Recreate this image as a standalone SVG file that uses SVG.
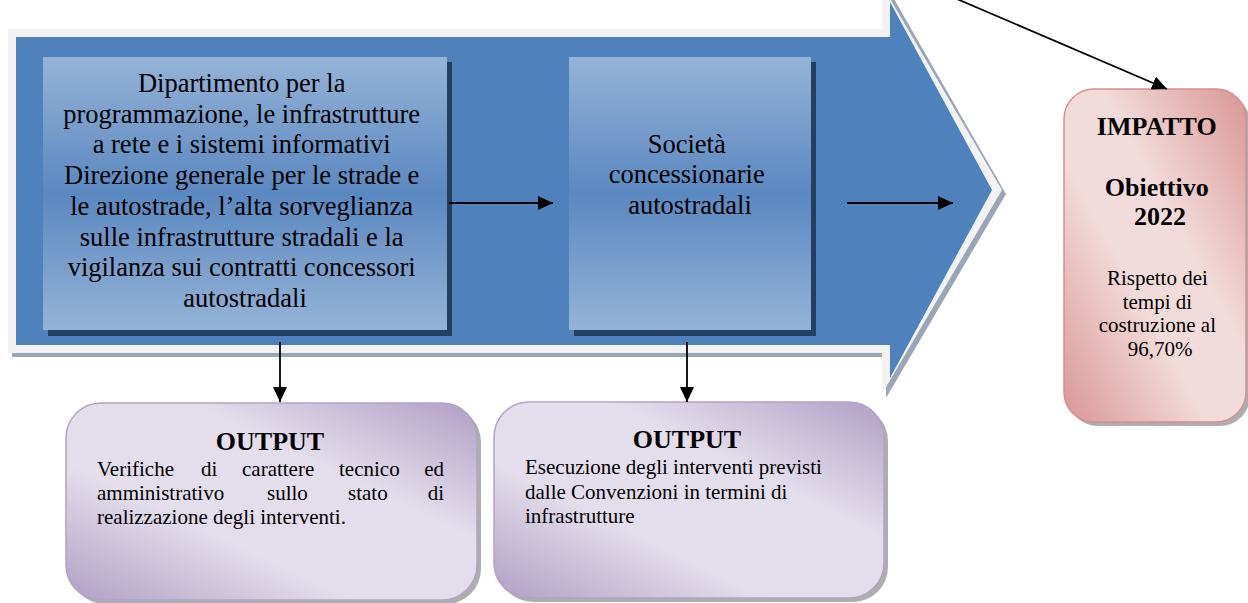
<svg xmlns="http://www.w3.org/2000/svg" width="1248" height="603" viewBox="0 0 1248 603">
<style>
  .t { font-family: "Liberation Serif", "Times New Roman", serif; fill: #000; }
  .big { font-size: 26.5px; }
  .b { font-weight: bold; font-size: 26px; }
  .sm { font-size: 21px; }
  .conn { stroke: #000; stroke-width: 1.8; fill: none; marker-end: url(#ah); }
</style>
<defs>
  <marker id="ah" markerUnits="userSpaceOnUse" markerWidth="16" markerHeight="14" refX="15" refY="7" orient="auto">
    <path d="M0,0 L15,7 L0,14 Z" fill="#000"/>
  </marker>
  <linearGradient id="gBlue" x1="0" y1="0" x2="0" y2="1">
    <stop offset="0" stop-color="#95b3d7"/>
    <stop offset="0.5" stop-color="#5a88c0"/>
    <stop offset="1" stop-color="#95b3d7"/>
  </linearGradient>
  <linearGradient id="gPurple" x1="1" y1="0" x2="0" y2="1">
    <stop offset="0" stop-color="#b09fc5"/>
    <stop offset="0.35" stop-color="#e4deec"/>
    <stop offset="0.65" stop-color="#e4deec"/>
    <stop offset="1" stop-color="#b09fc5"/>
  </linearGradient>
  <linearGradient id="gPink" x1="1" y1="0" x2="0" y2="1">
    <stop offset="0" stop-color="#d99694"/>
    <stop offset="0.4" stop-color="#f2dcdb"/>
    <stop offset="0.6" stop-color="#f2dcdb"/>
    <stop offset="1" stop-color="#d99694"/>
  </linearGradient>
</defs>
<rect width="1248" height="603" fill="#fff"/>

<g id="process-arrow">
  <path d="M12,33 L886,33 L886,-15 L1006,194 L886,398 L886,357 L12,357 Z" fill="#9aa6b8"/>
  <path d="M8,29 L882,29 L882,-15 L1002,190 L882,394 L882,353 L8,353 Z" fill="#f2f2f2"/>
  <path d="M16,37 L890,37 L890,2 L992,190 L890,378 L890,345 L16,345 Z" fill="#4f81bd"/>
</g>

<g id="node-dipartimento">
  <rect x="48" y="62" width="404" height="274" fill="#243f60"/>
  <rect x="43" y="57" width="404" height="273" fill="url(#gBlue)"/>
  <text class="t big" text-anchor="middle">
    <tspan x="245" y="92">Dipartimento per la</tspan>
    <tspan x="245" y="122.7">programmazione, le infrastrutture</tspan>
    <tspan x="245" y="153.4">a rete e i sistemi informativi</tspan>
    <tspan x="245" y="184.1">Direzione generale per le strade e</tspan>
    <tspan x="245" y="214.8">le autostrade, l’alta sorveglianza</tspan>
    <tspan x="245" y="245.5">sulle infrastrutture stradali e la</tspan>
    <tspan x="245" y="276.2">vigilanza sui contratti concessori</tspan>
    <tspan x="245" y="307">autostradali</tspan>
  </text>
</g>

<g id="node-societa">
  <rect x="574" y="62" width="242" height="274" fill="#243f60"/>
  <rect x="569" y="57" width="242" height="273" fill="url(#gBlue)"/>
  <text class="t big" text-anchor="middle">
    <tspan x="690" y="152.7">Società</tspan>
    <tspan x="690" y="183">concessionarie</tspan>
    <tspan x="690" y="213.5">autostradali</tspan>
  </text>
</g>

<g id="node-impatto">
  <rect x="1068" y="93" width="182" height="333" rx="30" fill="#9a9a9a" opacity="0.8"/>
  <rect x="1064" y="89" width="182" height="333" rx="30" fill="url(#gPink)" stroke="#d4908e" stroke-width="1.5"/>
  <text class="t b" text-anchor="middle">
    <tspan x="1160" y="135">IMPATTO</tspan>
    <tspan x="1160" y="196">Obiettivo</tspan>
    <tspan x="1160" y="225">2022</tspan>
  </text>
  <text class="t sm" text-anchor="middle">
    <tspan x="1160" y="285">Rispetto dei</tspan>
    <tspan x="1160" y="308.5">tempi di</tspan>
    <tspan x="1160" y="332">costruzione al</tspan>
    <tspan x="1160" y="355.5">96,70%</tspan>
  </text>
</g>

<g id="node-output1">
  <rect x="70" y="407" width="411" height="197" rx="35" fill="#9a9a9a" opacity="0.8"/>
  <rect x="66" y="403" width="411" height="197" rx="35" fill="url(#gPurple)" stroke="#b3a2c7" stroke-width="1.5"/>
  <text class="t b" x="270" y="450" text-anchor="middle">OUTPUT</text>
  <text class="t sm">
    <tspan x="97" y="476">Verifiche</tspan>
    <tspan x="201" y="476">di</tspan>
    <tspan x="242" y="476">carattere</tspan>
    <tspan x="339" y="476">tecnico</tspan>
  </text>
  <text class="t sm" x="444" y="476" text-anchor="end">ed</text>
  <text class="t sm">
    <tspan x="97" y="500">amministrativo</tspan>
    <tspan x="267" y="500">sullo</tspan>
    <tspan x="348" y="500">stato</tspan>
  </text>
  <text class="t sm" x="444" y="500" text-anchor="end">di</text>
  <text class="t sm" x="97" y="523.5">realizzazione degli interventi.</text>
</g>

<g id="node-output2">
  <rect x="498" y="406" width="390" height="196" rx="35" fill="#9a9a9a" opacity="0.8"/>
  <rect x="494" y="402" width="390" height="196" rx="35" fill="url(#gPurple)" stroke="#b3a2c7" stroke-width="1.5"/>
  <text class="t b" x="687" y="448" text-anchor="middle">OUTPUT</text>
  <text class="t sm">
    <tspan x="525" y="474">Esecuzione degli interventi previsti</tspan>
    <tspan x="525" y="498.5">dalle Convenzioni in termini di</tspan>
    <tspan x="525" y="523">infrastrutture</tspan>
  </text>
</g>

<g id="connectors">
  <line class="conn" x1="449" y1="203" x2="553" y2="203"/>
  <line class="conn" x1="847" y1="203" x2="953" y2="203"/>
  <line class="conn" x1="280" y1="342" x2="280" y2="402"/>
  <line class="conn" x1="687" y1="342" x2="687" y2="402"/>
  <line class="conn" x1="950" y1="-4" x2="1167" y2="89"/>
</g>
</svg>
